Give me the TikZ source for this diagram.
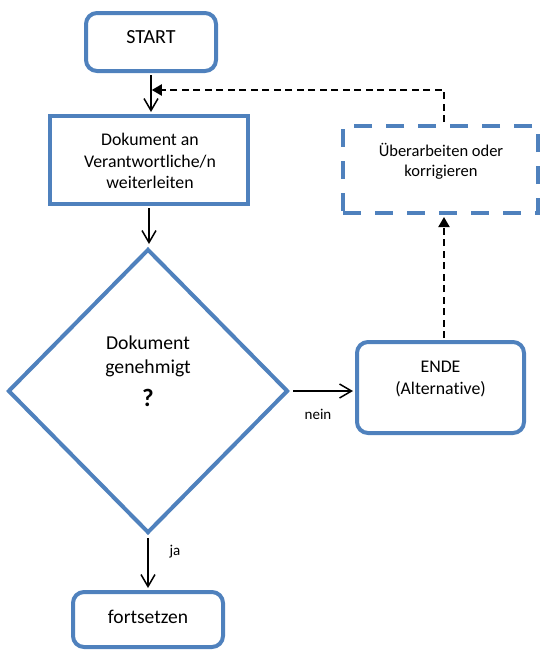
\documentclass[tikz,border=0pt]{standalone}
\usepackage{fontspec}
\setmainfont{Carlito}[Ligatures=NoCommon]
\usetikzlibrary{shapes.geometric,arrows.meta}
\definecolor{flowblue}{RGB}{79,129,189}
\begin{document}
\begin{tikzpicture}[x=1pt,y=-1pt,
  shapebox/.style={draw=flowblue,line width=4pt,inner sep=0pt,fill=white},
  roundbox/.style={shapebox,rounded corners=11pt},
  txt/.style={inner sep=0pt,align=center,text=black},
  flow/.style={draw=black,line width=1.5pt,-{Straight Barb[length=12pt,width=14pt,line width=1.5pt]}},
  back/.style={draw=black,line width=2pt,dash pattern=on 7pt off 4.5pt,-{Triangle[length=10pt,width=11pt]}},
]
\useasboundingbox (0,0) rectangle (541,651);
% shapes
\node[roundbox,minimum width=130pt,minimum height=58pt] (start) at (151,42) {};
\node[shapebox,minimum width=198pt,minimum height=88pt] (doc) at (149,160) {};
\node[shapebox,shape=diamond,minimum width=280pt,minimum height=284pt] (dec) at (148,391) {};
\node[roundbox,minimum width=167pt,minimum height=91pt] (ende) at (440.5,387.5) {};
\node[shapebox,dash pattern=on 18pt off 14pt,minimum width=195pt,minimum height=87pt] (rev) at (440.5,169.5) {};
\node[roundbox,minimum width=150pt,minimum height=55pt] (cont) at (148,619.5) {};
% texts
\node[txt,font=\fontsize{20pt}{24pt}\selectfont] (tstart) at (151,37) {START};
\node[txt,font=\fontsize{17.8pt}{21.7pt}\selectfont] (tdoc) at (150,161) {Dokument an\\Verantwortliche/n\\weiterleiten};
\node[txt,font=\fontsize{19.7pt}{24pt}\selectfont] (tdec) at (148,356) {Dokument\\genehmigt};
\node[txt,font=\bfseries\fontsize{25pt}{28pt}\selectfont] (tq) at (148,398) {?};
\node[txt,font=\fontsize{17.8pt}{21.7pt}\selectfont] (tende) at (440.5,379) {ENDE\\(Alternative)};
\node[txt,font=\fontsize{16.5pt}{20pt}\selectfont] (trev) at (441,161) {Überarbeiten oder\\korrigieren};
\node[txt,font=\fontsize{19.5pt}{24pt}\selectfont] (tcont) at (148,617) {fortsetzen};
\node[txt,font=\fontsize{15pt}{18pt}\selectfont] (lnein) at (318,414) {nein};
\node[txt,font=\fontsize{15pt}{18pt}\selectfont] (lja) at (175,552) {ja};
% connectors
\draw[flow,shorten <=2pt,shorten >=2pt] (start.south) -- (start.south |- doc.north);
\draw[flow,shorten <=2pt,shorten >=3pt] (doc.south) -- (doc.south |- dec.north);
\draw[flow,shorten <=3pt,shorten >=2pt] (dec.east) -- (dec.east -| ende.west);
\draw[flow,shorten <=3pt,shorten >=2pt] (dec.south) -- (dec.south |- cont.north);
\coordinate (turn) at (444,90);
\draw[back,shorten <=2pt,shorten >=2pt] (ende.north -| turn) -- (rev.south -| turn);
\draw[back,shorten <=2pt,shorten >=0.75pt] (rev.north -| turn) -- (turn) -- (turn -| start.south);
\end{tikzpicture}
\end{document}
